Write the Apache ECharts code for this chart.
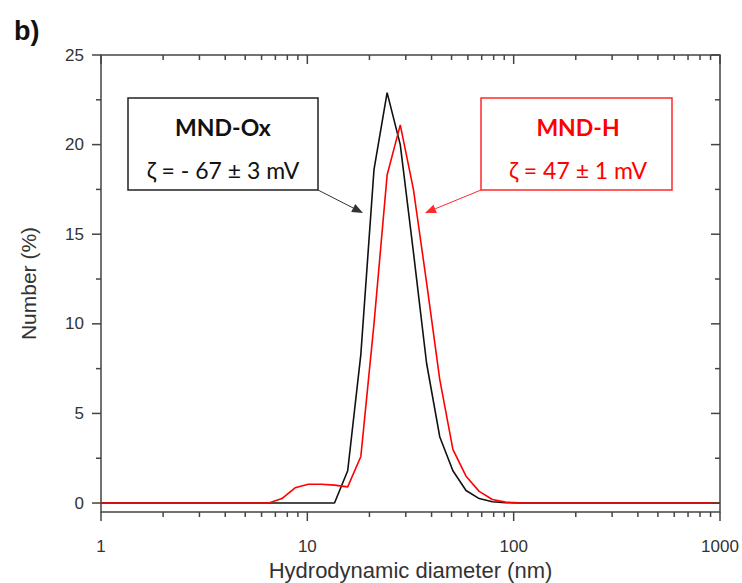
<!DOCTYPE html>
<html>
<head>
<meta charset="utf-8">
<script src="https://cdn.jsdelivr.net/npm/echarts@6/dist/echarts.min.js"></script>
<style>html,body{margin:0;padding:0;background:#fff;}#c{width:742px;height:583px;}</style>
</head>
<body>
<div id="c"></div>
<script>
// Size bins (nm) and number distributions (%)
const oxDiameter = [1, 13.54, 15.69, 18.17, 21.04, 24.36, 28.21, 32.67, 37.84, 43.82, 50.75, 58.77, 68.06, 78.82, 91.28, 105.7, 1000];
const oxNumber   = [0, 0, 1.8, 8.3, 18.6, 22.9, 20.0, 14.0, 7.8, 3.7, 1.8, 0.7, 0.25, 0.07, 0.02, 0, 0];
const hDiameter  = [1, 6.503, 7.531, 8.721, 10.1, 11.7, 13.54, 15.69, 18.17, 21.04, 24.36, 28.21, 32.67, 37.84, 43.82, 50.75, 58.77, 68.06, 78.82, 91.28, 105.7, 122.4, 1000];
const hNumber    = [0, 0, 0.25, 0.85, 1.05, 1.05, 1.0, 0.9, 2.6, 10.0, 18.3, 21.1, 17.5, 12.3, 6.9, 3.0, 1.5, 0.65, 0.2, 0.05, 0.01, 0, 0];

const xMajorTicks = [1, 10, 100, 1000];
const xMinorTicks = [2,3,4,5,6,7,8,9,20,30,40,50,60,70,80,90,200,300,400,500,600,700,800,900];
const yMajorTicks = [0, 5, 10, 15, 20, 25];
const yMinorTicks = [2.5, 7.5, 12.5, 17.5, 22.5];

const X_MIN = 1, X_MAX = 1000, Y_MIN = -0.5, Y_MAX = 25;
const AXIS_COLOR = '#444';

function zip(a, b) { return a.map((v, i) => [v, b[i]]); }

function xTickRenderer(len) {
  return function (params, api) {
    const v = api.value(0);
    const b = api.coord([v, Y_MIN]);
    const t = api.coord([v, Y_MAX]);
    const st = { stroke: AXIS_COLOR, lineWidth: 1.5 };
    return { type: 'group', children: [
      { type: 'line', shape: { x1: b[0], y1: b[1], x2: b[0], y2: b[1] + len }, style: st },
      { type: 'line', shape: { x1: t[0], y1: t[1], x2: t[0], y2: t[1] + len }, style: st }
    ]};
  };
}
function yTickRenderer(len) {
  return function (params, api) {
    const v = api.value(1);
    const l = api.coord([X_MIN, v]);
    const r = api.coord([X_MAX, v]);
    const st = { stroke: AXIS_COLOR, lineWidth: 1.5 };
    return { type: 'group', children: [
      { type: 'line', shape: { x1: l[0], y1: l[1], x2: l[0] - len, y2: l[1] }, style: st },
      { type: 'line', shape: { x1: r[0], y1: r[1], x2: r[0] - len, y2: r[1] }, style: st }
    ]};
  };
}

function arrow(x1, y1, x2, y2, color) {
  const dx = x2 - x1, dy = y2 - y1, L = Math.hypot(dx, dy);
  const ux = dx / L, uy = dy / L, nx = -uy, ny = ux;
  const hl = 11, hw = 4.5;
  const bx = x2 - ux * hl, by = y2 - uy * hl;
  return [
    { type: 'line', shape: { x1: x1, y1: y1, x2: bx, y2: by }, style: { stroke: color, lineWidth: 1 }, z: 10 },
    { type: 'polygon', shape: { points: [[x2, y2], [bx + nx * hw, by + ny * hw], [bx - nx * hw, by - ny * hw]] }, style: { fill: color }, z: 10 }
  ];
}

const chart = echarts.init(document.getElementById('c'), null, { renderer: 'svg' });
const textFont = 'Liberation Sans, Arial, sans-serif';

chart.setOption({
  animation: false,
  backgroundColor: '#fff',
  grid: { left: 101, right: 22, top: 55, bottom: 71, containLabel: false, outerBoundsMode: 'none', show: true, borderColor: AXIS_COLOR, borderWidth: 1.5, backgroundColor: 'transparent' },
  xAxis: {
    type: 'log', logBase: 10, min: X_MIN, max: X_MAX,
    name: 'Hydrodynamic diameter (nm)', nameLocation: 'middle', nameGap: 46,
    nameTextStyle: { fontFamily: textFont, fontSize: 22, color: '#333' },
    axisLine: { show: false }, axisTick: { show: false }, splitLine: { show: false },
    axisLabel: { margin: 26, fontFamily: textFont, fontSize: 17, color: '#333', formatter: v => String(Math.round(v)) }
  },
  yAxis: {
    type: 'value', min: Y_MIN, max: Y_MAX, splitNumber: 5,
    name: 'Number (%)', nameLocation: 'middle', nameGap: 62, nameRotate: 90,
    nameTextStyle: { fontFamily: textFont, fontSize: 21, color: '#333' },
    axisLine: { show: false }, axisTick: { show: false }, splitLine: { show: false },
    axisLabel: { margin: 17, fontFamily: textFont, fontSize: 17, color: '#333', formatter: v => (Math.abs(v % 5) < 1e-9 ? String(v) : '') }
  },
  series: [
    { type: 'line', name: 'MND-Ox', data: zip(oxDiameter, oxNumber), showSymbol: false, lineStyle: { color: '#111', width: 1.6 }, itemStyle: { color: '#111' }, z: 3 },
    { type: 'line', name: 'MND-H', data: zip(hDiameter, hNumber), showSymbol: false, lineStyle: { color: '#ff0000', width: 1.6 }, itemStyle: { color: '#ff0000' }, z: 4 },
    { type: 'custom', clip: false, silent: true, data: xMajorTicks.map(v => [v, 0]), renderItem: xTickRenderer(9), z: 5 },
    { type: 'custom', clip: false, silent: true, data: xMinorTicks.map(v => [v, 0]), renderItem: xTickRenderer(5), z: 5 },
    { type: 'custom', clip: false, silent: true, data: yMajorTicks.map(v => [10, v]), renderItem: yTickRenderer(9), z: 5 },
    { type: 'custom', clip: false, silent: true, data: yMinorTicks.map(v => [10, v]), renderItem: yTickRenderer(5), z: 5 }
  ],
  graphic: [
    { type: 'text', left: 14, top: 17, style: { text: 'b)', font: 'bold 27px ' + textFont, fill: '#111' } },
    { type: 'rect', shape: { x: 128, y: 98, width: 190, height: 92 }, style: { fill: '#fff', stroke: '#222', lineWidth: 1.5 }, z: 9 },
    { type: 'text', x: 223, y: 127, style: { text: 'MND-Ox', font: 'bold 23px Lato, sans-serif', fill: '#111', align: 'center', verticalAlign: 'middle' }, z: 11 },
    { type: 'text', x: 223, y: 170, style: { text: 'ζ = - 67 ± 3 mV', font: '23px Lato, sans-serif', fill: '#111', align: 'center', verticalAlign: 'middle' }, z: 11 },
    ...arrow(318, 190, 363, 213, '#333'),
    { type: 'rect', shape: { x: 481, y: 98, width: 191, height: 92 }, style: { fill: '#fff', stroke: '#ff2a2a', lineWidth: 1.5 }, z: 9 },
    { type: 'text', x: 578, y: 127, style: { text: 'MND-H', font: 'bold 23px Lato, sans-serif', fill: '#ff0000', align: 'center', verticalAlign: 'middle' }, z: 11 },
    { type: 'text', x: 578, y: 170, style: { text: 'ζ = 47 ± 1 mV', font: '23px Lato, sans-serif', fill: '#ff0000', align: 'center', verticalAlign: 'middle' }, z: 11 },
    ...arrow(481, 190, 425, 213, '#ff2a2a')
  ]
});
</script>
</body>
</html>
